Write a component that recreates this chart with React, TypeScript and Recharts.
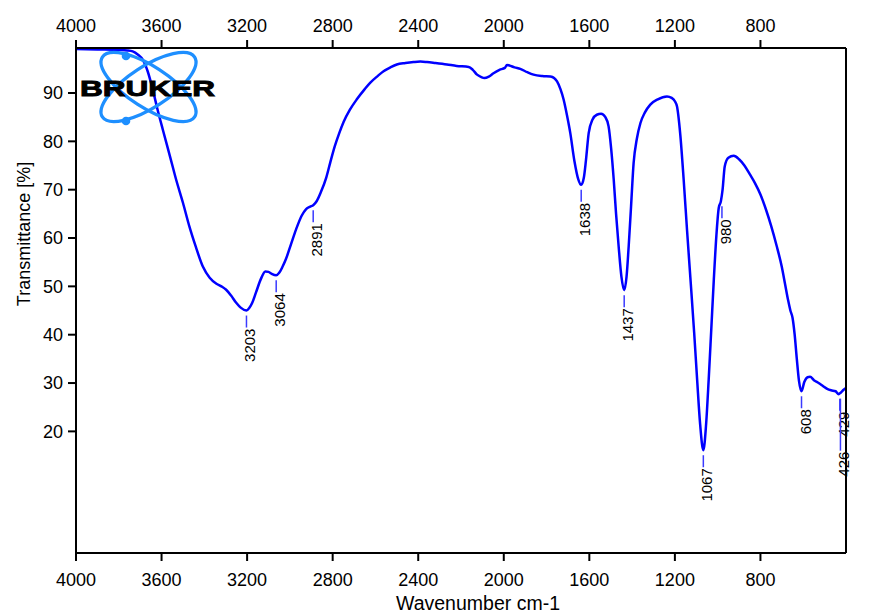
import React from 'react';
import { ComposedChart, Line, Scatter, XAxis, YAxis } from 'recharts';

const wavenumbers = [
  4000, 3900, 3800, 3760, 3735, 3710, 3688, 3665, 3641, 3620, 3594, 3560, 3532, 3500, 3470, 3440,
  3407, 3375, 3345, 3320, 3298, 3275, 3251, 3230, 3203, 3190, 3176, 3158, 3135, 3115, 3100, 3085,
  3064, 3050, 3035, 3018, 2995, 2971, 2945, 2924, 2905, 2891, 2875, 2855, 2830, 2812, 2790, 2770,
  2749, 2720, 2687, 2650, 2625, 2590, 2562, 2530, 2500, 2460, 2422, 2390, 2359, 2320, 2266, 2220,
  2164, 2145, 2125, 2105, 2091, 2070, 2048, 2020, 1995, 1985, 1974, 1950, 1923, 1890, 1861, 1820,
  1782, 1765, 1751, 1735, 1720, 1705, 1689, 1670, 1652, 1638, 1626, 1616, 1603, 1585, 1565, 1545,
  1525, 1510, 1498, 1486, 1475, 1463, 1450, 1437, 1426, 1416, 1405, 1393, 1378, 1361, 1340, 1315,
  1280, 1237, 1215, 1200, 1190, 1175, 1159, 1143, 1127, 1110, 1096, 1082, 1067, 1054, 1042, 1030,
  1018, 1006, 995, 985, 977, 967, 950, 925, 900, 875, 850, 825, 800, 775, 750, 725,
  700, 685, 670, 660, 650, 640, 630, 620, 608, 595, 580, 568, 550, 528, 508, 488,
  470, 449, 434, 425, 411, 400,
];

const transmittance = [
  99.1, 99.0, 98.9, 98.8, 98.6, 97.9, 96.9, 94.5, 90.7, 86.8, 82.4, 76.8, 72.1, 67.3, 62.4, 58.2,
  54.1, 51.8, 50.6, 50.0, 49.3, 48.1, 46.6, 45.6, 45.0, 45.5, 46.6, 48.8, 51.6, 53.1, 53.0, 52.6,
  52.3, 52.8, 54.0, 55.7, 58.7, 61.8, 64.6, 66.0, 66.5, 66.8, 67.6, 69.5, 72.5, 75.5, 79.0, 81.6,
  84.0, 86.5, 88.7, 90.8, 92.1, 93.5, 94.5, 95.3, 95.9, 96.2, 96.4, 96.5, 96.4, 96.2, 95.9, 95.6,
  95.4, 94.8, 93.8, 93.3, 93.1, 93.4, 94.1, 94.8, 95.2, 95.8, 95.7, 95.3, 95.0, 94.3, 93.8, 93.5,
  93.4, 93.1, 92.4, 90.8, 88.6, 85.5, 81.7, 76.0, 72.2, 71.0, 72.4, 76.0, 81.7, 84.5, 85.5, 85.7,
  85.0, 83.1, 78.5, 72.1, 65.0, 58.3, 52.0, 49.2, 52.0, 58.3, 66.5, 75.5, 80.5, 83.8, 86.0, 87.6,
  88.7, 89.3, 89.0, 88.3, 87.2, 81.5, 72.1, 61.5, 51.4, 40.5, 30.7, 21.5, 16.1, 21.5, 30.7, 41.0,
  51.4, 60.5, 66.2, 67.6, 70.0, 74.8, 76.6, 77.0, 76.3, 75.0, 73.2, 71.3, 69.0, 66.0, 62.5, 58.5,
  54.0, 50.5, 47.0, 45.0, 43.5, 40.0, 35.0, 30.5, 28.3, 30.2, 31.2, 31.3, 30.6, 30.0, 29.4, 28.8,
  28.5, 28.3, 27.7, 28.0, 28.6, 29.0,
];

const peakPositions = [3203, 3064, 2891, 1638, 1437, 1067, 980, 608, 429, 426];
const peakValues = [45.0, 52.3, 66.8, 71.0, 49.2, 16.1, 67.6, 28.3, 27.8, 27.8];
const peakLabels = ['3203', '3064', '2891', '1638', '1437', '1067', '980', '608', '429', '426'];

const xTicks = [4000, 3600, 3200, 2800, 2400, 2000, 1600, 1200, 800];
const yTicks = [20, 30, 40, 50, 60, 70, 80, 90];

const curveData = wavenumbers.map((wn, i) => ({ wn, t: transmittance[i] }));
const peakData = peakPositions.map((wn, i) => ({ wn, t: peakValues[i], label: peakLabels[i] }));

const FONT = '"Liberation Sans", Arial, Helvetica, sans-serif';
const LINE_LEN: Record<string, number> = { '426': 52 };

const PeakMark = (props: any) => {
  const { cx, cy, payload } = props;
  if (cx == null || cy == null) return null;
  const y1 = cy + 5;
  const len = LINE_LEN[payload.label] ?? 12;
  const y2 = y1 + len;
  const ty = y2 + 1;
  return (
    <g>
      <line x1={cx} x2={cx} y1={y1} y2={y2} stroke="#3a3aff" strokeWidth={1.5} />
      <text
        x={cx}
        y={ty}
        dy={9}
        transform={`rotate(-90 ${cx} ${ty})`}
        textAnchor="end"
        fontSize={15}
        fontFamily={FONT}
        fill="#000"
      >
        {payload.label}
      </text>
    </g>
  );
};

const tickStyle = { fill: '#000', fontSize: 18, fontFamily: FONT };
const axisLineStyle = { stroke: '#000', strokeWidth: 2 };

export default function App() {
  return (
    <div style={{ position: 'fixed', left: 0, top: 0, width: 883, height: 614, background: '#fff' }}>
      <ComposedChart width={883} height={614} margin={{ top: 0, right: 0, bottom: 0, left: 0 }} data={curveData}>
        <XAxis
          xAxisId="bottom"
          dataKey="wn"
          type="number"
          domain={[400, 4000]}
          reversed
          ticks={xTicks}
          orientation="bottom"
          height={61}
          tickSize={8}
          tickMargin={12}
          tick={tickStyle}
          tickLine={axisLineStyle}
          axisLine={axisLineStyle}
        />
        <XAxis
          xAxisId="top"
          dataKey="wn"
          type="number"
          domain={[400, 4000]}
          reversed
          ticks={xTicks}
          orientation="top"
          height={48}
          tickSize={8}
          tickMargin={8}
          tick={tickStyle}
          tickLine={axisLineStyle}
          axisLine={axisLineStyle}
        />
        <YAxis
          yAxisId="left"
          type="number"
          domain={[-5.16, 99.31]}
          ticks={yTicks}
          orientation="left"
          width={76}
          tickSize={8}
          tickMargin={5}
          tick={tickStyle}
          tickLine={axisLineStyle}
          axisLine={axisLineStyle}
        />
        <YAxis
          yAxisId="right"
          type="number"
          domain={[-5.16, 99.31]}
          ticks={yTicks}
          orientation="right"
          width={37}
          tickSize={8}
          tickMargin={8}
          tick={tickStyle}
          tickLine={axisLineStyle}
          axisLine={axisLineStyle}
        />
        <Line
          xAxisId="bottom"
          yAxisId="left"
          dataKey="t"
          type="monotone"
          stroke="#0000ff"
          strokeWidth={2.5}
          dot={false}
          activeDot={false}
          isAnimationActive={false}
        />
        <Scatter
          xAxisId="bottom"
          yAxisId="left"
          data={peakData}
          dataKey="t"
          shape={PeakMark}
          isAnimationActive={false}
        />
      </ComposedChart>
      <svg
        width={883}
        height={614}
        style={{ position: 'absolute', left: 0, top: 0, pointerEvents: 'none' }}
      >
        <g>
          <ellipse cx={148.5} cy={87} rx={55} ry={20.5} transform="rotate(33 148.5 87)" fill="none" stroke="#1e8fff" strokeWidth={3.3} />
          <ellipse cx={148.5} cy={87} rx={55} ry={20.5} transform="rotate(-33 148.5 87)" fill="none" stroke="#1e8fff" strokeWidth={3.3} />
          <circle cx={126} cy={56} r={4.3} fill="#1e8fff" />
          <circle cx={126} cy={121} r={4.3} fill="#1e8fff" />
          <text
            x={80}
            y={96}
            fontSize={22.5}
            fontWeight={900}
            fontFamily={FONT}
            fill="#000"
            stroke="#000"
            strokeWidth={0.9}
            textLength={135}
            lengthAdjust="spacingAndGlyphs"
          >
            BRUKER
          </text>
        </g>
        <text x={478} y={610} textAnchor="middle" fontSize={19.5} fontFamily={FONT} fill="#000">
          Wavenumber cm-1
        </text>
        <text
          x={29.5}
          y={234}
          textAnchor="middle"
          transform="rotate(-90 29.5 234)"
          fontSize={18}
          fontFamily={FONT}
          fill="#000"
        >
          Transmittance [%]
        </text>
      </svg>
    </div>
  );
}
